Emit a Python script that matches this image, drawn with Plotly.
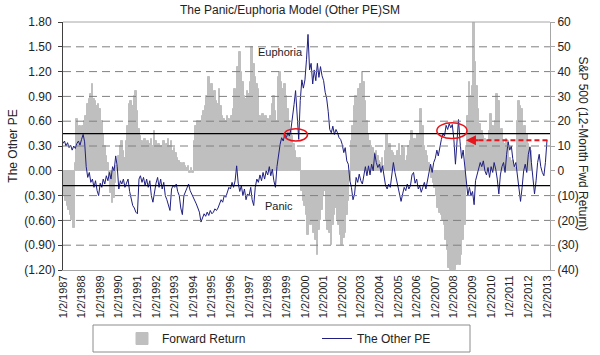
import plotly.graph_objects as go
import pandas as pd

# ---------------- data ----------------
years = list(range(1987, 2014))
tick_dates = [f"{y}-01-02" for y in years]
tick_labels = [f"1/2/{y}" for y in years]

# S&P 500 12-month forward return (%), monthly from Jan 1987
fwd_return = [
    -8, -10, -12, -14, -16, -18, -20, -23, 3, 21, 16, 18,      # 1987
    16, 18, 20, 22, 27, 29, 31, 35, 29, 28, 26, 27,            # 1988
    25, 20, 15, 10, 6, 3, -3, -9, -13, -11, -5, 2,             # 1989
    6, 10, 12, 8, 5, 12, 18, 27, 28, 26, 30, 32,               # 1990
    24, 17, 14, 12, 11, 13, 11, 12, 11, 13, 10, 16,            # 1991
    12, 10, 11, 9, 10, 12, 9, 11, 13, 10, 12, 8,               # 1992
    9, 7, 5, 4, 3, 2, 3, 2, 1, 2, -1, 1,                       # 1993
    -1, 12, 18, 20, 18, 20, 22, 24, 26, 30, 38, 33,            # 1994
    35, 30, 32, 28, 27, 33, 26, 22, 21, 20, 22, 21,            # 1995
    20, 22, 25, 33, 30, 42, 48, 40, 36, 30, 29, 32,            # 1996
    31, 36, 50, 43, 38, 35, 33, 22, 16, 23, 21, 22,            # 1997
    21, 20, 22, 27, 30, 24, 20, 38, 40, 36, 33, 35,            # 1998
    30, 25, 20, 16, 14, 11, 8, 5, 3, 5, -8, -12,               # 1999
    -14, -18, -26, -20, -22, -18, -25, -28, -34, -24, -20, -16,  # 2000
    -10, -8, -20, -24, -25, -30, -22, -18, -15, -20, -22, -26,   # 2001
    -30, -27, -25, -18, -12, -4, 12, 18, 26, 30, 28, 33,       # 2002
    35, 40, 36, 28, 20, 15, 12, 10, 9, 7, 8, 6,                # 2003
    4, 3, 5, 2, 8, 15, 10, 11, 8, 7, 6, 6,                     # 2004
    8, 11, 6, 10, 9, 4, 6, 10, 12, 16, 11, 13,                 # 2005
    12, 15, 14, 25, 18, 10, 8, 6, 3, 2, -3, -5,                # 2006
    -7, -10, -15, -17, -18, -20, -22, -28, -32, -39, -40, -40, # 2007
    -40, -40, -38, -36, -38, -34, -28, -22, 10, 22, 36, 30,    # 2008
    34, 60, 44, 34, 25, 19, 16, 14, 13, 11, 12, 16,            # 2009
    23, 18, 15, 20, 31, 28, 14, 17, 12, 11, 13, 12,            # 2010
    5, 3, 4, 2, 1, 20, 28, 26, 25, 17, 18, 15,                 # 2011
    11, 9, 8,                                                  # 2012
]

# The Other PE, monthly from Jan 1987
other_pe = [
    0.33, 0.36, 0.30, 0.34, 0.28, 0.31, 0.25, 0.30, 0.27, 0.33, 0.36, 0.31,
    0.38, 0.44, 0.35, 0.05, -0.08, -0.02, -0.14, -0.10, -0.20, -0.12, -0.24, -0.30,
    -0.15, -0.20, -0.10, -0.16, -0.06, -0.12, -0.02, -0.10, 0.05, 0.00, 0.18, 0.05,
    -0.22, -0.12, -0.16, -0.10, -0.20, -0.14, -0.10, -0.25, -0.35, -0.42, -0.45, -0.50,
    -0.52, -0.10, -0.06, -0.14, -0.08, -0.18, -0.10, -0.20, -0.12, -0.30, -0.38, -0.25,
    -0.15, -0.08, -0.20, -0.10, -0.22, -0.14, -0.30, -0.35, -0.42, -0.48, -0.22, -0.18,
    -0.20, -0.16, -0.25, -0.30, -0.45, -0.53, -0.30, -0.25, -0.20, -0.16, -0.24, -0.28,
    -0.30, -0.35, -0.40, -0.45, -0.50, -0.62, -0.58, -0.52, -0.55, -0.50, -0.54, -0.48,
    -0.52, -0.50, -0.46, -0.48, -0.45, -0.40, -0.35, -0.38, -0.30, -0.32, -0.25, -0.20,
    -0.22, -0.14, -0.20, -0.12, 0.06, -0.15, -0.25, -0.18, -0.30, -0.22, -0.35, -0.28,
    -0.30, -0.20, -0.35, -0.42, -0.20, -0.10, -0.14, -0.05, -0.12, -0.02, -0.10, 0.00,
    -0.05, 0.05, -0.06, 0.02, -0.12, -0.20, 0.05, 0.20, 0.32, 0.40, 0.36, 0.44,
    0.40, 0.46, 0.42, 0.50, 0.62, 0.80, 0.97, 0.60, 0.38, 0.85, 1.10, 1.00,
    1.10, 1.35, 1.65, 1.22, 1.30, 1.05, 1.22, 1.09, 1.30, 1.13, 1.26, 1.15,
    1.09, 0.95, 0.88, 0.72, 0.50, 0.46, 0.54, 0.44, 0.50, 0.46, 0.40, 0.38,
    0.32, 0.22, 0.28, 0.12, 0.08, -0.12, -0.20, -0.35, -0.28, -0.08, -0.14, -0.04,
    -0.12, -0.16, -0.05, 0.05, -0.06, 0.06, -0.05, 0.08, 0.00, 0.21, 0.10, 0.04,
    0.08, -0.02, 0.06, -0.06, -0.18, -0.22, -0.16, -0.20, 0.00, 0.10, -0.02, -0.10,
    -0.18, -0.30, -0.37, -0.28, -0.20, -0.24, -0.16, -0.22, -0.18, -0.05, -0.02, -0.15,
    -0.10, -0.22, -0.18, -0.26, -0.20, -0.14, -0.22, -0.10, 0.00, 0.08, -0.02, 0.10,
    0.15, 0.25, 0.18, 0.30, 0.38, 0.45, 0.42, 0.55, 0.50, 0.57, 0.52, 0.56,
    0.38, 0.08, 0.30, 0.62, 0.35, 0.15, 0.25, 0.08, -0.16, -0.30, -0.20, -0.30,
    -0.25, -0.41, -0.12, -0.05, 0.02, 0.10, 0.05, 0.12, 0.00, -0.05, 0.04, -0.08,
    0.05, -0.02, 0.10, 0.02, -0.10, -0.28, -0.05, 0.05, 0.10, -0.02, 0.20, 0.35,
    0.25, 0.30, 0.15, 0.05, 0.10, -0.05, -0.15, -0.37, -0.20, 0.00, 0.08, -0.02,
    0.20, 0.29, 0.10, -0.10, -0.28, -0.12, 0.10, 0.20, 0.05, -0.02, -0.06, 0.10,
    0.37,
]

pe_ticks = [-1.2, -0.9, -0.6, -0.3, 0.0, 0.3, 0.6, 0.9, 1.2, 1.5, 1.8]
pe_tick_labels = ["(1.20)", "(0.90)", "(0.60)", "(0.30)", "0.00", "0.30", "0.60",
                  "0.90", "1.20", "1.50", "1.80"]
ret_ticks = [-40, -30, -20, -10, 0, 10, 20, 30, 40, 50, 60]
ret_tick_labels = ["(40)", "(30)", "(20)", "(10)", "0", "10", "20", "30", "40", "50", "60"]

thresholds = [0.45, -0.18]           # euphoria / panic levels
highlights = [                        # (start, end, low, high) of the circled periods
    ("1998-11-20", "2000-02-20", 0.36, 0.51),
    ("2007-02-01", "2008-09-15", 0.39, 0.58),
]
arrow_from = ("2013-01-10", 0.37)
arrow_to = ("2008-08-25", 0.37)
labels = [("Euphoria", "1998-09-10", 1.44), ("Panic", "1998-08-15", -0.43)]

# ---------------- figure ----------------
all_dates = pd.date_range("1987-01-01", periods=len(other_pe), freq="MS")
fwd_dates = all_dates[:len(fwd_return)]

FONT = "Arial, Liberation Sans, sans-serif"
GRAY = "#BFBFBF"
fig = go.Figure()
fig.add_trace(go.Bar(
    x=fwd_dates, y=fwd_return, name="Forward Return",
    marker=dict(color=GRAY, line=dict(width=1, color=GRAY)),
    width=31 * 24 * 3600 * 1000, xaxis="x", yaxis="y",
))
fig.add_trace(go.Scatter(
    x=all_dates, y=other_pe, name="The Other PE", mode="lines",
    line=dict(color="#1f1f82", width=1), xaxis="x", yaxis="y2",
))

# positive labels padded with an invisible ")" so digits line up like the original
pe_text = [t if t.startswith("(") else t + '<span style="color:white">)</span>'
           for t in pe_tick_labels]

shapes = []
for v in pe_ticks[1:-1]:
    if v == 0:
        continue
    shapes.append(dict(type="line", xref="paper", x0=0, x1=1, yref="y2", y0=v, y1=v,
                       line=dict(color="#808080", width=1, dash="8px,5px"), layer="above"))
for v in thresholds:
    shapes.append(dict(type="line", xref="paper", x0=0, x1=1, yref="y2", y0=v, y1=v,
                       line=dict(color="#000000", width=1.3), layer="above"))
# top frame
shapes.append(dict(type="line", xref="paper", x0=0, x1=1, yref="paper", y0=1, y1=1,
                   line=dict(color="#A6A6A6", width=1), layer="above"))
for x0, x1, y0, y1 in highlights:
    shapes.append(dict(type="circle", xref="x", yref="y2", x0=x0, x1=x1, y0=y0, y1=y1,
                       line=dict(color="#E8141B", width=1.5), layer="above"))
shapes.append(dict(type="line", xref="x", yref="y2", x0=arrow_from[0], y0=arrow_from[1],
                   x1="2008-11-20", y1=arrow_to[1],
                   line=dict(color="#E8141B", width=2, dash="5px,3px"), layer="above"))
# legend frame
L, R, T, B = 63, 550, 22, 270
ph, pw = B - T, R - L
shapes.append(dict(type="rect", xref="paper", yref="paper",
                   x0=(93 - L) / pw, x1=(470 - L) / pw,
                   y0=-(352 - B) / ph, y1=-(325 - B) / ph,
                   line=dict(color="#8C8C8C", width=1), fillcolor="rgba(0,0,0,0)"))

annotations = [
    dict(x=arrow_to[0], y=arrow_to[1], xref="x", yref="y2", ax=14, ay=0, text="",
         showarrow=True, arrowhead=2, arrowsize=1, arrowwidth=2, arrowcolor="#E8141B"),
    dict(xref="paper", yref="paper", x=(592 - L) / pw, y=0.51, textangle=90,
         text="S&P 500 (12-Month Fwd Return)", showarrow=False,
         font=dict(size=12, family=FONT, color="#222")),
]
for txt, d, v in labels:
    annotations.append(dict(x=d, y=v, xref="x", yref="y2", text=txt, showarrow=False,
                            font=dict(size=11, family=FONT, color="#222")))

fig.update_layout(
    width=600, height=355,
    margin=dict(l=L, r=600 - R, t=T, b=355 - B, autoexpand=False),
    paper_bgcolor="white", plot_bgcolor="white",
    font=dict(family=FONT, size=12, color="#222"),
    bargap=0,
    title=dict(text="The Panic/Euphoria Model (Other PE)SM", x=290 / 600, xref="container",
               xanchor="center", y=1 - 10 / 355, yanchor="middle", font=dict(size=12)),
    showlegend=True,
    legend=dict(orientation="h", x=(122 - L) / pw, xanchor="left",
                y=-(338.5 - B) / ph, yanchor="middle", font=dict(size=12),
                bgcolor="rgba(0,0,0,0)", borderwidth=0,
                entrywidth=150, entrywidthmode="pixels"),
    xaxis=dict(type="date", range=["1987-01-02", "2013-03-01"], tickvals=tick_dates,
               ticktext=tick_labels, tickangle=-90, ticks="", showline=True,
               linecolor="#A6A6A6", showgrid=False, zeroline=False,
               tickfont=dict(size=11)),
    xaxis3=dict(type="date", overlaying="x", matches="x", anchor="free", position=0.4,
                side="bottom", tickvals=tick_dates, showticklabels=False, ticks="outside",
                ticklen=4, tickcolor="#404040", showline=True, linecolor="#404040",
                showgrid=False, zeroline=False),
    yaxis=dict(side="right", range=[-40, 60], tickvals=ret_ticks, ticktext=ret_tick_labels,
               showline=True, linecolor="#A6A6A6", ticks="outside", ticklen=4,
               tickcolor="#A6A6A6", showgrid=False, zeroline=False, anchor="x"),
    yaxis2=dict(side="left", overlaying="y", range=[-1.2, 1.8], tickvals=pe_ticks,
                ticktext=pe_text, showline=True, linecolor="#404040",
                ticks="outside", ticklen=4, tickcolor="#404040", showgrid=False,
                zeroline=False, anchor="x",
                title=dict(text="The Other PE", standoff=4, font=dict(size=12))),
    shapes=shapes, annotations=annotations,
)

fig.write_html("out.html", config={"displayModeBar": False},
               post_script="document.body.style.margin='0';")
